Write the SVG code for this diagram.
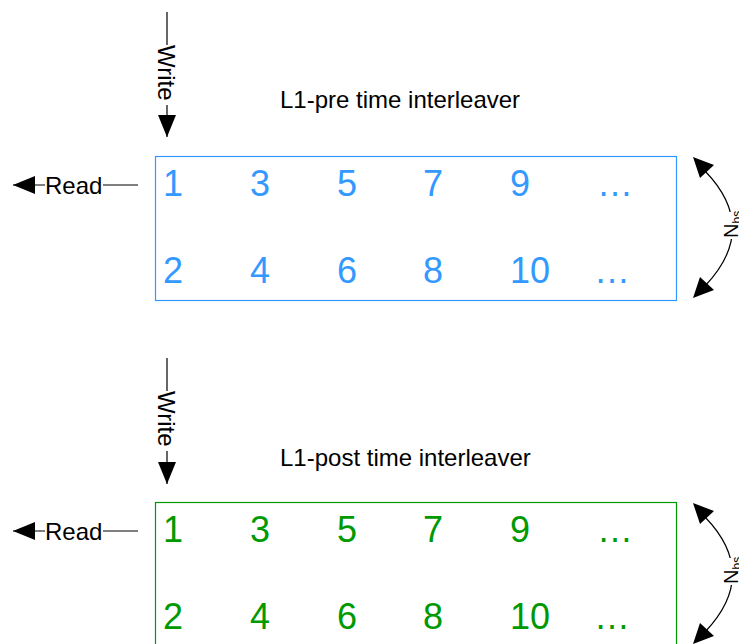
<svg xmlns="http://www.w3.org/2000/svg" width="739" height="644" viewBox="0 0 739 644">
<style>
text{font-family:"Liberation Sans",Arial,sans-serif}
.lbl{font-size:24px;fill:#000}
.ttl{font-size:24px;fill:#000}
.nb{font-size:20px;fill:#000}
.num{font-size:36px}
.blue{fill:#3399FF}
.green{fill:#009900}
.ln{stroke:#000;stroke-width:1.2;fill:none}
</style>
<defs>
<marker id="big" markerWidth="22" markerHeight="18" refX="22" refY="9" orient="auto" markerUnits="userSpaceOnUse" viewBox="0 0 22 18">
<path d="M0,0 L22,9 L0,18 z" fill="#000"/>
</marker>
</defs>
<g id="connectors">
<line class="ln" x1="167" y1="12" x2="167" y2="137" marker-end="url(#big)"/>
<line class="ln" x1="138" y1="185" x2="13" y2="185" marker-end="url(#big)"/>
<path class="ln" d="M705,171 Q760,228 705,286"/>
<line class="ln" x1="167" y1="358" x2="167" y2="484" marker-end="url(#big)"/>
<line class="ln" x1="138" y1="531" x2="13" y2="531" marker-end="url(#big)"/>
<path class="ln" d="M705,517 Q760,574 705,632"/>
<path d="M693,157 L714,165 L700,178 z" fill="#000"/>
<path d="M693,298 L714,290 L700,277 z" fill="#000"/>
<path d="M693,503 L714,511 L700,524 z" fill="#000"/>
<path d="M693,644 L714,636 L700,623 z" fill="#000"/>
</g>
<g id="write1">
<rect x="157" y="45" width="20" height="60" fill="#fff"/>
<text class="lbl" transform="translate(158,45) rotate(90)">Write</text>
</g>
<g id="read1">
<rect x="45" y="175" width="58" height="20" fill="#fff"/>
<text class="lbl" x="45" y="194">Read</text>
</g>
<g id="nb1">
<rect x="722" y="212" width="17" height="27" fill="#fff"/>
<text class="nb" transform="translate(738,238) rotate(-90)">N<tspan font-size="12" dy="3">bs</tspan></text>
</g>
<g id="title1"><text class="ttl" x="280" y="108">L1-pre time interleaver</text></g>
<g id="box1">
<rect x="155.5" y="156.5" width="521" height="144" fill="none" stroke="#3399FF" stroke-width="1.2"/>
<g class="blue num" text-anchor="middle">
<text x="173" y="196">1</text><text x="260" y="196">3</text><text x="347" y="196">5</text><text x="433" y="196">7</text><text x="520" y="196">9</text><text x="615" y="196">…</text>
<text x="173" y="283">2</text><text x="260" y="283">4</text><text x="347" y="283">6</text><text x="433" y="283">8</text><text x="530" y="283">10</text><text x="612" y="283">…</text>
</g>
</g>
<g id="write2">
<rect x="157" y="391" width="20" height="60" fill="#fff"/>
<text class="lbl" transform="translate(158,391) rotate(90)">Write</text>
</g>
<g id="read2">
<rect x="45" y="521" width="58" height="20" fill="#fff"/>
<text class="lbl" x="45" y="540">Read</text>
</g>
<g id="nb2">
<rect x="722" y="558" width="17" height="27" fill="#fff"/>
<text class="nb" transform="translate(738,584) rotate(-90)">N<tspan font-size="12" dy="3">bs</tspan></text>
</g>
<g id="title2"><text class="ttl" x="280" y="466">L1-post time interleaver</text></g>
<g id="box2">
<rect x="155.5" y="502.5" width="521" height="150" fill="none" stroke="#009900" stroke-width="1.2"/>
<g class="green num" text-anchor="middle">
<text x="173" y="542">1</text><text x="260" y="542">3</text><text x="347" y="542">5</text><text x="433" y="542">7</text><text x="520" y="542">9</text><text x="615" y="542">…</text>
<text x="173" y="629">2</text><text x="260" y="629">4</text><text x="347" y="629">6</text><text x="433" y="629">8</text><text x="530" y="629">10</text><text x="612" y="629">…</text>
</g>
</g>
</svg>
